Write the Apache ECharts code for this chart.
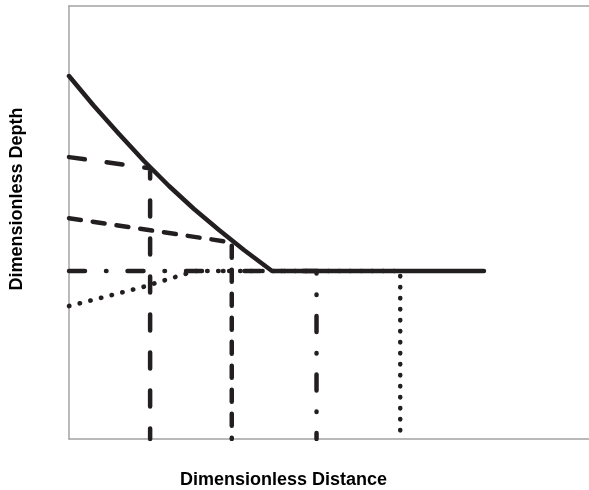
<!DOCTYPE html>
<html>
<head>
<meta charset="utf-8">
<script src="https://cdn.jsdelivr.net/npm/echarts@6/dist/echarts.min.js"></script>
<style>html,body{margin:0;padding:0;background:#fff}#c{width:589px;height:490px}</style>
</head>
<body>
<div id="c"></div>
<script>
// Axis titles
const xTitle = 'Dimensionless Distance';
const yTitle = 'Dimensionless Depth';

// Solid boundary curve (dimensionless distance, dimensionless depth)
const solidX = [0, 0.481, 0.962, 1.442, 1.923, 2.404, 2.885, 3.365, 3.904, 7.98];
const solidY = [8.383, 7.691, 7.044, 6.420, 5.843, 5.312, 4.827, 4.365, 3.880, 3.880];

// Long-dash path
const longDashX = [0, 1.56, 1.56];
const longDashY = [6.51, 6.25, 0];

// Medium-dash path
const medDashX = [0, 3.13, 3.13];
const medDashY = [5.10, 4.54, 0];

// Dash-dot path
const dashDotX = [0, 4.76, 4.76];
const dashDotY = [3.88, 3.88, 0];

// Dotted path
const dotX = [0, 1.42, 2.42, 6.37, 6.37];
const dotY = [3.07, 3.51, 3.88, 3.88, 0];

const ink = '#231f20';
const frame = { show: true, onZero: false, lineStyle: { color: '#a3a3a3', width: 1.5 } };
const pairs = (xs, ys) => xs.map((x, i) => [x, ys[i]]);

function lineSeries(xs, ys, width, type, z) {
  return {
    type: 'line',
    data: pairs(xs, ys),
    showSymbol: false,
    symbol: 'none',
    silent: true,
    animation: false,
    z: z,
    lineStyle: { color: ink, width: width, type: type, cap: 'round', join: 'round' }
  };
}

const hidden = { axisTick: { show: false }, axisLabel: { show: false }, splitLine: { show: false } };

const chart = echarts.init(document.getElementById('c'));
chart.setOption({
  animation: false,
  backgroundColor: '#ffffff',
  grid: { left: 69, right: 0, top: 6, bottom: 51 },
  xAxis: [
    Object.assign({ type: 'value', min: 0, max: 10, position: 'bottom', axisLine: frame }, hidden),
    Object.assign({ type: 'value', min: 0, max: 10, position: 'top', axisLine: frame }, hidden)
  ],
  yAxis: Object.assign({ type: 'value', min: 0, max: 10, position: 'left', axisLine: frame }, hidden),
  graphic: [
    {
      type: 'text', left: 180, top: 471,
      style: { text: xTitle, font: 'bold 18px "Liberation Sans", Arial, sans-serif', fill: '#000' }
    },
    {
      type: 'text', x: 17, y: 199, rotation: Math.PI / 2,
      style: {
        text: yTitle, font: 'bold 18px "Liberation Sans", Arial, sans-serif', fill: '#000',
        align: 'center', verticalAlign: 'middle'
      }
    }
  ],
  series: [
    lineSeries(solidX, solidY, 4.5, 'solid', 5),
    lineSeries(longDashX, longDashY, 4.5, [16, 22], 4),
    lineSeries(medDashX, medDashY, 4.5, [12, 12], 4),
    lineSeries(dashDotX, dashDotY, 4.5, [16, 21, 0.5, 21], 3),
    lineSeries(dotX, dotY, 4.6, [0.4, 10.6], 3)
  ]
});
</script>
</body>
</html>
